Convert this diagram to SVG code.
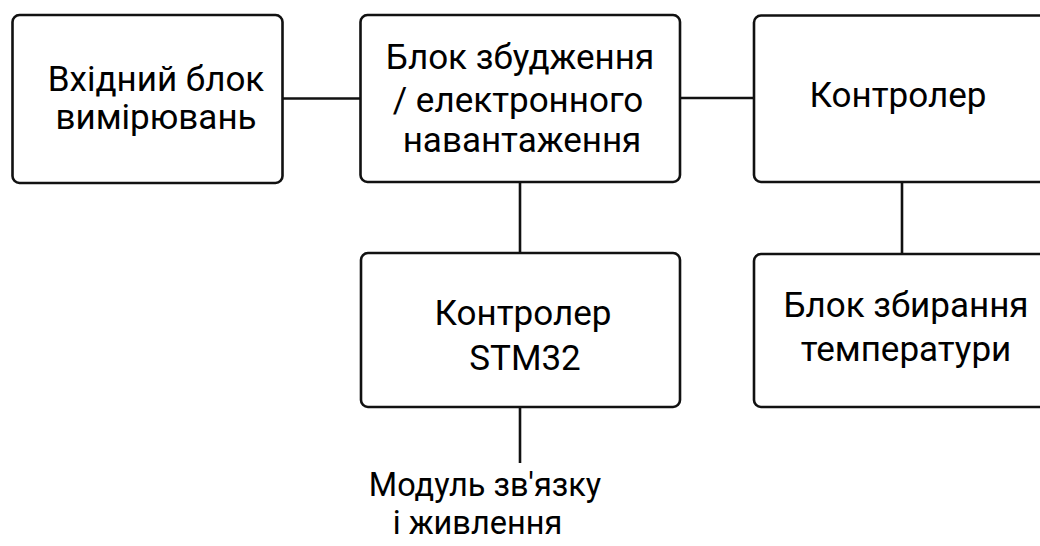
<svg xmlns="http://www.w3.org/2000/svg" width="1040" height="546" viewBox="0 0 1040 546">
<style>
.box{fill:#fff;stroke:#111;stroke-width:2.6}
.ln{stroke:#111;stroke-width:2.6;fill:none}
text{font-family:Roboto,"Liberation Sans",sans-serif;font-size:35px;fill:#000;text-anchor:middle}
.free{font-size:32.5px}
</style>
<rect width="1040" height="546" fill="#fff"/>
<g id="connectors">
<line class="ln" x1="283" y1="98.5" x2="360" y2="98.5"/>
<line class="ln" x1="680" y1="98" x2="754" y2="98"/>
<line class="ln" x1="520" y1="182" x2="520" y2="253"/>
<line class="ln" x1="902" y1="182" x2="902" y2="254"/>
<line class="ln" x1="520" y1="407" x2="520" y2="463"/>
</g>
<g id="n1"><rect class="box" x="12.5" y="15" width="270" height="168" rx="7"/>
<text x="156" y="91">Вхідний блок</text><text x="156" y="129">вимірювань</text></g>
<g id="n2"><rect class="box" x="360.5" y="15" width="319.5" height="167" rx="7"/>
<text x="520" y="69">Блок збудження</text><text x="518" y="112">/ електронного</text><text x="522" y="152">навантаження</text></g>
<g id="n3"><rect class="box" x="754" y="15.5" width="320" height="166.5" rx="7"/>
<text x="898" y="107">Контролер</text></g>
<g id="n4"><rect class="box" x="361" y="253" width="319" height="154" rx="7"/>
<text x="523" y="325">Контролер</text><text x="525" y="370">STM32</text></g>
<g id="n5"><rect class="box" x="754" y="254" width="320" height="153" rx="7"/>
<text x="906" y="317">Блок збирання</text><text x="906" y="361">температури</text></g>
<g id="n6"><text class="free" x="485" y="496">Модуль зв'язку</text><text class="free" x="477.5" y="534">і живлення</text></g>
</svg>
